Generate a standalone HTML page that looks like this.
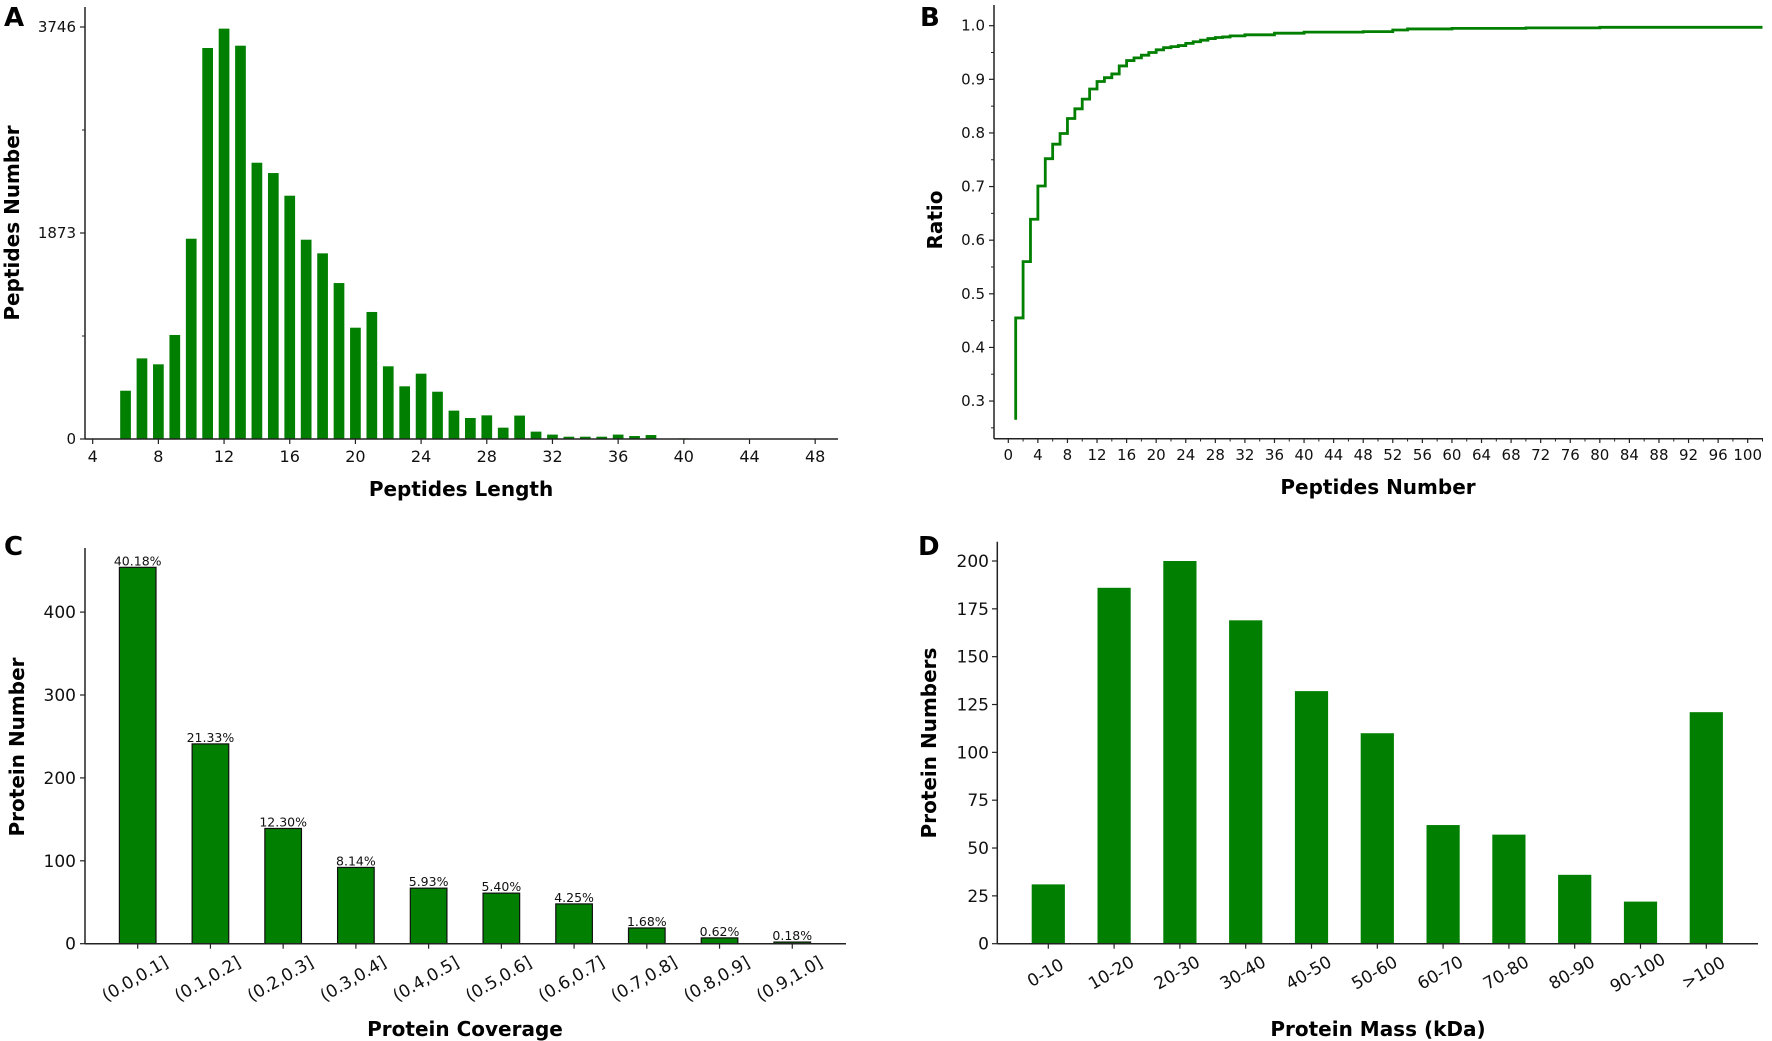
<!DOCTYPE html>
<html><head><meta charset="utf-8"><style>
html,body{margin:0;padding:0;background:#fff;}
svg{display:block;font-family:"DejaVu Sans","Liberation Sans",sans-serif;}
</style></head><body>
<svg id="fig" width="1772" height="1041" viewBox="0 0 1772 1041" xmlns="http://www.w3.org/2000/svg">
<rect width="1772" height="1041" fill="#fff"/>
<g id="pA"></g>
<g id="pB"></g>
<g id="pC"></g>
<g id="pD"></g>
</svg>
<script>
// Panel A data
const lenCats = [6,7,8,9,10,11,12,13,14,15,16,17,18,19,20,21,22,23,24,25,26,27,28,29,30,31,32,33,34,35,36,37,38,39,40];
const lenVals = [439,733,679,946,1821,3555,3731,3576,2512,2418,2212,1812,1688,1418,1012,1155,661,479,594,430,258,191,215,103,213,67,40,21,21,21,40,27,36,4,6];
const lenTicks = [4,8,12,16,20,24,28,32,36,40,44,48];
const lenYTicks = [0,1873,3746];
// Panel B data
const cumX = [1,2,3,4,5,6,7,8,9,10,11,12,13,14,15,16,17,18,19,20,21,22,23,24,25,26,27,28,29,30,32,36,40,48,52,54,60,70,80,102];
const cumY = [0.265,0.455,0.56,0.639,0.701,0.752,0.779,0.799,0.827,0.845,0.863,0.882,0.896,0.903,0.910,0.925,0.935,0.940,0.945,0.950,0.955,0.959,0.961,0.963,0.967,0.970,0.973,0.976,0.978,0.979,0.981,0.983,0.986,0.988,0.989,0.992,0.994,0.995,0.996,0.997];
const cumXTicks = [0,4,8,12,16,20,24,28,32,36,40,44,48,52,56,60,64,68,72,76,80,84,88,92,96,100];
const cumYTicks = [0.3,0.4,0.5,0.6,0.7,0.8,0.9,1.0];
// Panel C data
const covCats = ["(0.0,0.1]","(0.1,0.2]","(0.2,0.3]","(0.3,0.4]","(0.4,0.5]","(0.5,0.6]","(0.6,0.7]","(0.7,0.8]","(0.8,0.9]","(0.9,1.0]"];
const covVals = [454,241,139,92,67,61,48,19,7,2];
const covPct = ["40.18%","21.33%","12.30%","8.14%","5.93%","5.40%","4.25%","1.68%","0.62%","0.18%"];
const covYTicks = [0,100,200,300,400];
// Panel D data
const massCats = ["0-10","10-20","20-30","30-40","40-50","50-60","60-70","70-80","80-90","90-100",">100"];
const massVals = [31,186,200,169,132,110,62,57,36,22,121];
const massYTicks = [0,25,50,75,100,125,150,175,200];

const NS="http://www.w3.org/2000/svg";
function mk(parent,tag,attrs,text){const e=document.createElementNS(NS,tag);for(const k in attrs)e.setAttribute(k,attrs[k]);if(text!==undefined)e.textContent=text;parent.appendChild(e);return e;}
const AX="#222";

// ---------- Panel A ----------
(function(){
const g=document.getElementById('pA');
const x=v=>92.7+(v-4)*16.42, y=v=>439-v*(412/3746);
lenCats.forEach((c,i)=>{
 const r=mk(g,'rect',{x:x(c)-5.35,y:y(lenVals[i]),width:10.7,height:439-y(lenVals[i]),fill:'#007f00'});
 
 
});
let a=mk(g,'line',{x1:85,y1:439,x2:838,y2:439,stroke:AX,'stroke-width':1.5});

a=mk(g,'line',{x1:85,y1:439,x2:85,y2:7,stroke:AX,'stroke-width':1.5});

lenTicks.forEach(t=>{mk(g,'line',{x1:x(t),y1:439,x2:x(t),y2:444,stroke:AX,'stroke-width':1.2});
 const s=mk(g,'text',{x:x(t),y:462,'font-size':16,'text-anchor':'middle',fill:'#111'},t);
 });
lenYTicks.forEach(t=>{mk(g,'line',{x1:80,y1:y(t),x2:85,y2:y(t),stroke:AX,'stroke-width':1.2});
 const s=mk(g,'text',{x:76,y:y(t)+5,'font-size':15,'text-anchor':'end',fill:'#111'},t);
 });
[936.5,2809.5].forEach(t=>mk(g,'line',{x1:82,y1:y(t),x2:85,y2:y(t),stroke:AX,'stroke-width':1}));
let t=mk(g,'text',{x:461,y:496,'font-size':20,'font-weight':'bold','text-anchor':'middle',fill:'#000'},'Peptides Length');

t=mk(g,'text',{x:0,y:0,transform:'translate(19,223) rotate(-90)','font-size':20,'font-weight':'bold','text-anchor':'middle',fill:'#000'},'Peptides Number');

t=mk(g,'text',{x:4,y:26,'font-size':26,'font-weight':'bold',fill:'#000'},'A');

})();

// ---------- Panel B ----------
(function(){
const g=document.getElementById('pB');
const x=v=>1008.3+v*7.394, y=v=>25.7+(1-v)*536.2;
let d='M'+x(cumX[0])+','+y(cumY[0]);
for(let i=1;i<cumX.length;i++){d+=' L'+x(cumX[i-1])+','+y(cumY[i])+' L'+x(cumX[i])+','+y(cumY[i]);}
const p=mk(g,'path',{d:d,fill:'none',stroke:'#007f00','stroke-width':2.8});

let a=mk(g,'line',{x1:994,y1:438.7,x2:1763,y2:438.7,stroke:AX,'stroke-width':1.5});

a=mk(g,'line',{x1:994,y1:438.7,x2:994,y2:5,stroke:AX,'stroke-width':1.5});

cumXTicks.forEach(tk=>{mk(g,'line',{x1:x(tk),y1:438.7,x2:x(tk),y2:443,stroke:AX,'stroke-width':1.2});
 mk(g,'line',{x1:x(tk+2),y1:438.7,x2:x(tk+2),y2:441.5,stroke:AX,'stroke-width':1});
 const s=mk(g,'text',{x:x(tk),y:460,'font-size':15,'text-anchor':'middle',fill:'#111'},tk);
 });
cumYTicks.forEach(tk=>{mk(g,'line',{x1:989,y1:y(tk),x2:994,y2:y(tk),stroke:AX,'stroke-width':1.2});
 mk(g,'line',{x1:991,y1:y(tk-0.05),x2:994,y2:y(tk-0.05),stroke:AX,'stroke-width':1});
 const s=mk(g,'text',{x:985,y:y(tk)+5,'font-size':15,'text-anchor':'end',fill:'#111'},tk.toFixed(1));
 });
let t=mk(g,'text',{x:1378,y:494,'font-size':20,'font-weight':'bold','text-anchor':'middle',fill:'#000'},'Peptides Number');

t=mk(g,'text',{x:0,y:0,transform:'translate(942,220) rotate(-90)','font-size':20,'font-weight':'bold','text-anchor':'middle',fill:'#000'},'Ratio');

t=mk(g,'text',{x:920,y:26,'font-size':26,'font-weight':'bold',fill:'#000'},'B');

})();

// ---------- Panel C ----------
(function(){
const g=document.getElementById('pC');
const base=943.7, x=i=>137.7+i*72.73, y=v=>base-v*0.829;
covCats.forEach((c,i)=>{
 const r=mk(g,'rect',{x:x(i)-18.3,y:y(covVals[i]),width:36.6,height:base-y(covVals[i]),fill:'#007f00',stroke:'#111','stroke-width':1.2});
 
 
 const l=mk(g,'text',{x:x(i),y:y(covVals[i])-2,'font-size':12.5,'text-anchor':'middle',fill:'#111'},covPct[i]);
 
 
 mk(g,'line',{x1:x(i),y1:base,x2:x(i),y2:base+5,stroke:AX,'stroke-width':1.2});
 const s=mk(g,'text',{x:0,y:0,transform:'translate('+x(i)+','+(base+40)+') rotate(-30)','font-size':17,'text-anchor':'middle',fill:'#111'},c);
 
});
let a=mk(g,'line',{x1:85,y1:base,x2:846,y2:base,stroke:AX,'stroke-width':1.5});

a=mk(g,'line',{x1:85,y1:base,x2:85,y2:548,stroke:AX,'stroke-width':1.5});

covYTicks.forEach(tk=>{mk(g,'line',{x1:80,y1:y(tk),x2:85,y2:y(tk),stroke:AX,'stroke-width':1.2});
 const s=mk(g,'text',{x:76,y:y(tk)+6,'font-size':17,'text-anchor':'end',fill:'#111'},tk);
 });
let t=mk(g,'text',{x:465,y:1036,'font-size':20,'font-weight':'bold','text-anchor':'middle',fill:'#000'},'Protein Coverage');

t=mk(g,'text',{x:0,y:0,transform:'translate(24,747) rotate(-90)','font-size':20,'font-weight':'bold','text-anchor':'middle',fill:'#000'},'Protein Number');

t=mk(g,'text',{x:4,y:555,'font-size':26,'font-weight':'bold',fill:'#000'},'C');

})();

// ---------- Panel D ----------
(function(){
const g=document.getElementById('pD');
const base=943.7, x=i=>1048.3+i*65.8, y=v=>base-v*1.9135;
massCats.forEach((c,i)=>{
 const r=mk(g,'rect',{x:x(i)-16.6,y:y(massVals[i]),width:33.2,height:base-y(massVals[i]),fill:'#007f00'});
 
 
 mk(g,'line',{x1:x(i),y1:base,x2:x(i),y2:base+5,stroke:AX,'stroke-width':1.2});
 const s=mk(g,'text',{x:0,y:0,transform:'translate('+x(i)+','+(base+34)+') rotate(-30)','font-size':17,'text-anchor':'middle',fill:'#111'},c);
 
});
let a=mk(g,'line',{x1:997.3,y1:base,x2:1758,y2:base,stroke:AX,'stroke-width':1.5});

a=mk(g,'line',{x1:997.3,y1:base,x2:997.3,y2:541.7,stroke:AX,'stroke-width':1.5});

massYTicks.forEach(tk=>{mk(g,'line',{x1:992,y1:y(tk),x2:997.3,y2:y(tk),stroke:AX,'stroke-width':1.2});
 const s=mk(g,'text',{x:989,y:y(tk)+6,'font-size':17,'text-anchor':'end',fill:'#111'},tk);
 });
let t=mk(g,'text',{x:1378,y:1036,'font-size':20,'font-weight':'bold','text-anchor':'middle',fill:'#000'},'Protein Mass (kDa)');

t=mk(g,'text',{x:0,y:0,transform:'translate(936,743) rotate(-90)','font-size':20,'font-weight':'bold','text-anchor':'middle',fill:'#000'},'Protein Numbers');

t=mk(g,'text',{x:918,y:555,'font-size':26,'font-weight':'bold',fill:'#000'},'D');

})();
</script>
</body></html>
